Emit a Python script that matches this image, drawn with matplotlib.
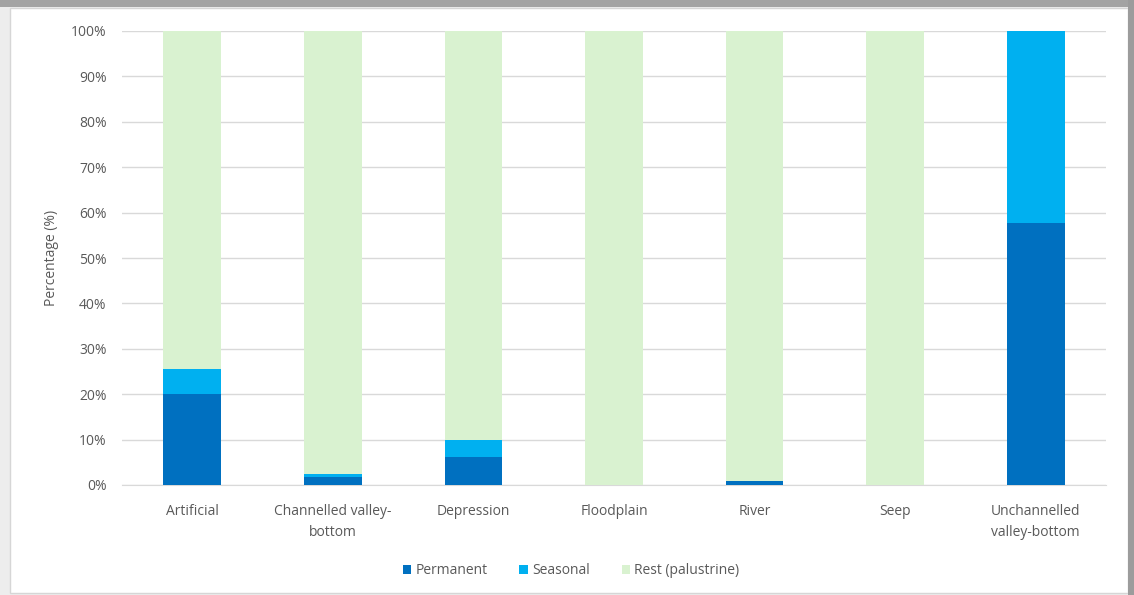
import matplotlib
matplotlib.use("Agg")
import matplotlib.pyplot as plt
from matplotlib.patches import Rectangle
from matplotlib.ticker import PercentFormatter

categories = ["Artificial", "Channelled valley-\nbottom", "Depression", "Floodplain",
              "River", "Seep", "Unchannelled\nvalley-bottom"]
permanent = [20.1, 1.8, 6.2, 0.0, 0.9, 0.0, 57.6]
seasonal = [5.5, 0.6, 3.7, 0.0, 0.0, 0.0, 42.4]
rest = [100 - p - s for p, s in zip(permanent, seasonal)]

c_perm = "#0070C0"
c_seas = "#00B0F0"
c_rest = "#D9F2D0"
txt = "#595959"
fs = 10

plt.rcParams["font.family"] = ["Open Sans", "DejaVu Sans"]

W, H = 1134, 595
fig = plt.figure(figsize=(W / 100, H / 100), dpi=100)
fig.patch.set_facecolor("white")

# surrounding window frame
fig.patches.append(Rectangle((0, 0), 1, 1, transform=fig.transFigure,
                             facecolor="#ededed", edgecolor="none", zorder=-3))
fig.patches.append(Rectangle((10 / W, 2 / H), 1118 / W, (H - 10) / H,
                             transform=fig.transFigure, facecolor="white",
                             edgecolor="#d6d6d6", linewidth=1, zorder=-2))
fig.patches.append(Rectangle((0, (H - 7) / H), 1, 7 / H, transform=fig.transFigure,
                             facecolor="#a3a3a3", edgecolor="none", zorder=-1))
fig.patches.append(Rectangle((1128 / W, 0), 6 / W, 1, transform=fig.transFigure,
                             facecolor="#9c9c9c", edgecolor="none", zorder=-1))

ax = fig.add_axes([122 / W, (H - 485) / H, (1106 - 122) / W, (485 - 31) / H])
x = range(len(categories))
bw = 0.41
ax.bar(x, permanent, bw, color=c_perm, label="Permanent", zorder=3)
ax.bar(x, seasonal, bw, bottom=permanent, color=c_seas, label="Seasonal", zorder=3)
bottoms = [p + s for p, s in zip(permanent, seasonal)]
ax.bar(x, rest, bw, bottom=bottoms, color=c_rest, label="Rest (palustrine)", zorder=3)

ax.set_xlim(-0.5, len(categories) - 0.5)
ax.set_ylim(0, 100)
ax.set_yticks(range(0, 101, 10))
ax.yaxis.set_major_formatter(PercentFormatter(decimals=0))
ax.grid(axis="y", color="#d9d9d9", linewidth=1, zorder=0)
for s in ["top", "right", "left"]:
    ax.spines[s].set_visible(False)
ax.spines["bottom"].set_color("#d9d9d9")
ax.tick_params(axis="both", length=0, colors=txt, labelsize=fs)
ax.tick_params(axis="y", pad=11)
ax.tick_params(axis="x", pad=14)
ax.set_xticks(list(x))
ax.set_xticklabels(categories, linespacing=1.55)
ax.set_ylabel("Percentage (%)", color=txt, fontsize=fs, labelpad=9)

leg = fig.legend(loc="center", bbox_to_anchor=(571 / W, (H - 571) / H), ncol=3,
                 frameon=False, fontsize=fs, handlelength=0.6, handleheight=0.6,
                 handletextpad=0.3, columnspacing=2.3, labelcolor=txt)

fig.savefig("out.png", dpi=100)
